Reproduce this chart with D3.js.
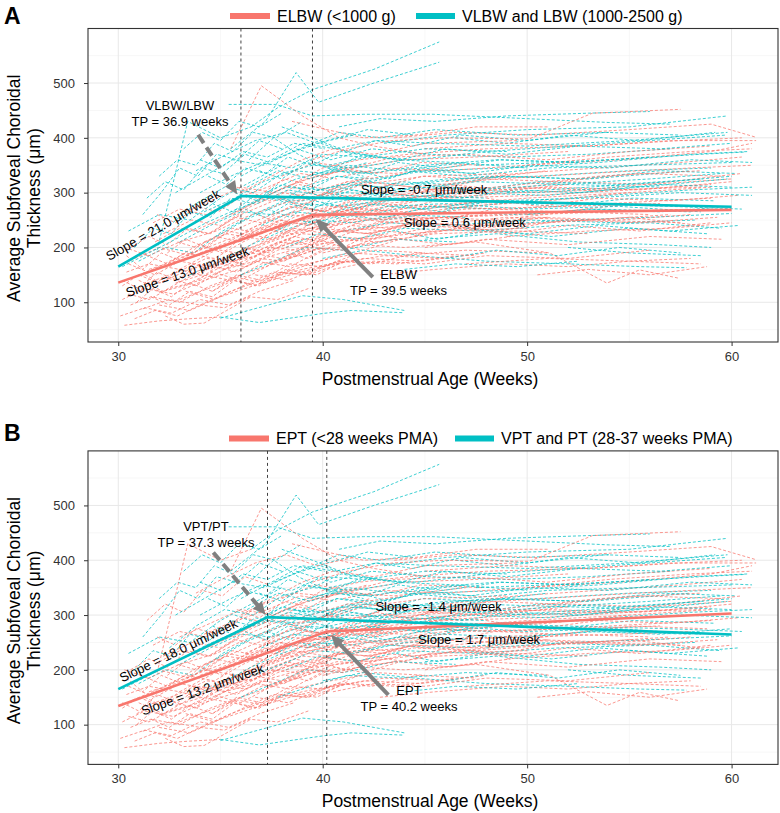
<!DOCTYPE html>
<html><head><meta charset="utf-8">
<script src="https://cdn.jsdelivr.net/npm/d3@7"></script>
<style>
body{margin:0;background:#fff;}
svg{display:block;font-family:"Liberation Sans",Arial,Helvetica,sans-serif;}
</style>
</head><body>
<svg id="chart" width="780" height="813"></svg>
<script>
// ---------- axes ----------
const xTicks=[30,40,50,60];
const xMinor=[35,45,55];
const yTicks=[100,200,300,400,500];
const yMinor=[50,150,250,350,450,550];
const xDomain=[28.52,62.27];
const yDomain=[27.5,599.5];
const xTitle="Postmenstrual Age (Weeks)";
const yTitle=["Average Subfoveal Choroidal","Thickness (μm)"];

// ---------- groups ----------
const groupColors={E:"#F8766D",V:"#00BFC4"};
const legendLabelsA=["ELBW (<1000 g)","VLBW and LBW (1000-2500 g)"];
const legendLabelsB=["EPT (<28 weeks PMA)","VPT and PT (28-37 weeks PMA)"];

// ---------- fitted piecewise lines [week, value] ----------
const fitA_red=[[30,135.8],[39.5,259.5],[60,268.6]];
const fitA_cyan=[[30,165],[36.0,293.8],[60,274.4]];
const fitB_red=[[30,134.2],[40.2,269.9],[60,302.7]];
const fitB_cyan=[[30,164.7],[37.3,296.2],[60,264.4]];
const turnPointsA=[36.0,39.5];
const turnPointsB=[37.3,40.2];

// ---------- annotations (data units) ----------
const slopeLabelsA=[
 {text:"Slope = 21.0 μm/week",w:32.19,v:241.2,along:"V"},
 {text:"Slope = 13.0 μm/week",w:33.38,v:155.9,along:"E"},
 {text:"Slope = -0.7 μm/week",w:44.96,v:305.1},
 {text:"Slope = 0.6 μm/week",w:46.95,v:245.4}];
const slopeLabelsB=[
 {text:"Slope = 18.0 μm/week",w:32.94,v:235.5,along:"V"},
 {text:"Slope = 13.2 μm/week",w:34.12,v:164.3,along:"E"},
 {text:"Slope = -1.4 μm/week",w:45.67,v:315.5},
 {text:"Slope = 1.7 μm/week",w:47.65,v:256}];
const tpLabelsA=[
 {lines:["VLBW/LBW","TP = 36.9 weeks"],w:33.02,v:459.1},
 {lines:["ELBW","TP = 39.5 weeks"],w:43.71,v:149.9}];
const tpLabelsB=[
 {lines:["VPT/PT","TP = 37.3 weeks"],w:34.29,v:461.6},
 {lines:["EPT","TP = 40.2 weeks"],w:44.22,v:162.1}];
const arrowsA=[
 {from:[33.91,405.6],to:[35.82,297.3],dashed:true},
 {from:[42.45,145.7],to:[39.66,252.1],dashed:false}];
const arrowsB=[
 {from:[34.65,414.2],to:[37.21,300.4],dashed:true},
 {from:[43.21,154.2],to:[40.41,263.8],dashed:false}];

// ---------- individual trajectories ----------
// code: [birth-weight group (panel A), gestational-age group (panel B)], then week,value pairs
const subjects=[
["EE",[30.3,58,32,66,33.5,70,35,73]],
["EE",[32.3,75,33.2,60,34.2,62,35.3,85,36.5,110]],
["EE",[30.5,115,31.5,105,32.5,125,34,140,35.5,165,37,190,39,215]],
["EE",[30.2,130,31,150,32,135,33.5,160,35,175,36.5,200,38.5,230,41,245]],
["EE",[30.6,95,31.6,110,33,100,34.5,130,36,150,38,175,40,200]],
["EE",[30.4,155,31.5,170,33,160,34.5,190,36,215,37.5,240,40,260,43,270]],
["EE",[31,140,32.2,120,33.4,145,35,170,36.8,185,38.5,210,41,230,44,240]],
["EE",[30.8,180,32,200,33.5,185,35,220,36.5,245,38.2,270,40,290,43,300,47,310]],
["EE",[31.2,88,32.5,105,34,95,35.5,120,37,140,39,160,41,175]],
["EE",[30.3,200,31.5,185,33,210,34.8,230,36.2,255,38,280,40.5,300]],
["EE",[31.5,160,32.8,175,34.2,200,35.8,190,37.4,225,39,250,41.5,270,44,265,48,285]],
["EE",[32,118,33.2,130,34.6,155,36,140,37.5,170,39.2,195,41,200,43.5,215]],
["EE",[30.9,120,32.3,145,33.8,130,35.2,160,36.7,175,38.4,165,40.2,200]],
["EE",[32.6,175,34,195,35.4,215,36.8,235,38.5,225,40.3,260,42.5,280,45,275,50,290,55,300]],
["EE",[31.8,210,33,235,34.4,225,36,260,37.6,285,39.4,300,41.2,320,44,335]],
["EE",[30.5,170,31.8,150,33,175,34.5,165,36.2,195,38,220,40,235,42,250,46,255,51,265]],
["EE",[33,105,34.4,125,35.8,145,37.2,135,38.6,165,40.4,180,42.6,195,45,190]],
["EE",[31.4,135,32.9,155,34.3,180,35.7,175,37.1,205,38.9,230,41,250,43.6,255,47,270,52,275,56.5,280]],
["EE",[32.2,225,33.6,250,35,240,36.5,275,38,300,39.8,290,42,315,45,330,49,335]],
["EE",[30.7,145,32,165,33.3,190,34.7,180,36.1,210,37.8,240,39.6,255,42,265]],
["EE",[33.4,150,34.8,170,36.3,165,37.8,195,39.5,215,41.5,235,44.5,225,48,240,53,250,57.5,245]],
["EE",[31.1,190,32.4,170,33.9,205,35.3,225,36.9,215,38.4,245,40.1,270,43,285,46.5,300]],
["EE",[32.8,135,34.1,150,35.5,140,37,170,38.8,185,40.6,210,43.2,225]],
["EE",[30.2,105,31.3,125,32.7,115,34.2,140,35.9,160,37.5,185,39.5,205,42,215,45.5,230,50,235]],
["EE",[34,190,35.4,210,36.8,240,38.2,260,39.9,255,41.8,285,44.5,300,48.5,310,53.5,330,58.5,340]],
["EE",[33.7,230,35.2,255,36.6,280,38.1,310,39.7,330,41.6,345,44,360,47.5,365,52,375]],
["EE",[35,200,36.4,225,37.9,250,39.3,240,41,265,43,280,46,290,50.5,295,55,305,59,315]],
["EE",[32,95,33.5,85,35,110,36.6,130,38.4,150,40.5,170,43,185,46,180]],
["EE",[34.5,155,36,180,37.5,205,39,225,40.8,220,42.8,245,46,255,50,260,54.5,265,58,270]],
["EE",[35.6,260,37,290,38.5,315,40,345,41.8,360,44.2,370,48,380,53,385,57.5,395,60.5,400]],
["EE",[36,300,37.5,330,39,360,40.5,380,42.5,370,45,390,49.5,395]],
["EE",[35.5,380,37,495,39,440,40.8,400,42.5,385,45,370]],
["EE",[36.2,230,37.7,255,39.2,270,40.9,265,43,285,46.5,300,51,310,55.5,305,60,320]],
["EE",[37,210,38.6,235,40.2,225,42.2,250,45,240,49,255,53,250,57,260]],
["EE",[38,330,39.6,355,41.4,345,43.5,365,47,370,51,360,55,375,59,385]],
["EE",[37.4,170,39,195,40.7,215,42.7,210,45.5,225,49.5,230,53,225]],
["EE",[38.5,280,40.2,300,42,320,44.5,310,48.5,325,53,335,58,345,61,350]],
["EE",[39,250,40.6,240,42.4,265,45,275,49,270,54,280,59,290]],
["EE",[40,190,41.8,205,44,200,47.5,210,51.1,190,53.9,135,55.5,159,57.4,144]],
["EE",[39.5,360,41.2,380,43.4,395,46,400,50.1,398,53.2,445,57.5,452]],
["EE",[41,330,43,345,46,340,50,350,54.5,360,59,375,61,390]],
["EE",[42,225,44.5,240,47.5,235,51,245,55,255,58.5,240]],
["EE",[40.5,160,42.5,175,45,170,48,185,52,180,56,195]],
["EE",[43,300,45.5,290,49,310,53,305,57,320,60.5,335]],
["EE",[44,260,47,275,51,285,55,300,59,310]],
["EE",[45,200,48,215,52,205,56,220,59.5,215]],
["EE",[46,320,49.5,335,53.5,345,57.5,355,60.5,365]],
["EE",[47,170,51,180,55,175,58.5,170]],
["EV",[36.5,190,38,210,39.6,235,41.5,230,44,250,48,260]],
["EE",[33,260,34.5,285,36,310,37.6,300,39.2,325,41,340,43.5,335,47,350]],
["VV",[35,73,36.9,63,40.1,80,41.4,85,43.9,81]],
["VV",[35,71,39,112,41,105,44,85]],
["VE",[31.9,195,33.4,430,35,400,36.5,420]],
["VV",[36.5,420,37.8,455,39.5,488,42.5,525,45.7,575]],
["VV",[35.5,380,37.2,430,38.7,519,39.8,465,42.5,500,45.7,538]],
["VV",[35.4,461,37.7,461,39.5,440,42,443,45.4,443,50,435,54,428,57,425]],
["VV",[32.5,240,33.8,280,35.2,310,36.6,300,38,335,39.5,350,41.5,345,44,360]],
["VV",[30.2,165,31.5,190,32.8,215,34.3,245,35.8,270,37.3,290,39,285,41,300,44,295,48,290]],
["VV",[33,210,34.5,240,36,265,37.5,260,39.1,280,41,275,43.5,290,47,285,52,280,57,275,60.5,270]],
["VV",[34,300,35.5,330,37,355,38.5,345,40,370,42,365,45,380,49,375]],
["VV",[35.2,255,36.7,285,38.2,310,39.8,305,41.7,320,44.3,315,48,330,53,325,58,340]],
["VV",[36,330,37.5,360,39,390,40.6,380,42.6,395,45.5,390,50,385,55,395,59.8,410]],
["VV",[36.8,280,38.3,305,39.9,295,41.6,315,44,305,47.5,320,52,315,56.5,310]],
["VV",[37,240,38.5,265,40.1,260,42,280,44.8,270,48.5,285,53,290,57.5,300,61,295]],
["VV",[37.6,360,39.2,385,40.8,410,42.8,400,45.5,415,49.5,405,54,410]],
["VV",[38.2,200,39.8,225,41.6,215,44,235,47.5,230,51.5,240,56,245,59.5,235]],
["VV",[38,420,39.5,400,41.2,375,43.5,360,46.5,355,50,345]],
["VV",[39,310,40.7,330,42.6,325,45,340,49,345,53.5,355,58,370,60.8,375]],
["VV",[39.5,270,41.2,255,43.2,275,46,280,50,270,54.5,275,58.5,265]],
["VV",[40.3,350,42.2,365,44.6,360,48,375,52,385,56,395,59.7,405]],
["VV",[40,180,42,195,44.5,185,48,175,52,170,55.5,165,57.8,163]],
["VV",[41,230,43.2,245,46,240,50,250,54.5,245,58.2,250]],
["VV",[42,295,44.5,310,47.5,305,51.5,315,56,325,59.5,335]],
["VV",[43,390,46,405,50,415,55,420,59.8,440]],
["VV",[44,340,47,330,51,345,55.5,350,60,355]],
["VV",[45,215,48.5,225,52.5,210,56.5,205,59,200]],
["VV",[46,270,50,285,54,295,58,305,61,310]],
["VV",[33.5,150,35,175,36.5,205,38,230,39.6,250,41.4,245,43.8,260,47,255]],
["VV",[34.8,220,36.2,250,37.7,275,39.3,300,41,315,43,310,46,325,50.5,330,55,340,59,345]],
["VV",[31,175,32.3,200,33.7,190,35.1,230,36.6,260,38.1,285,39.7,275,41.6,290]],
["VV",[36.3,310,37.8,340,39.4,325,41.2,350,43.6,340,47,355]],
["VE",[33.8,340,35.3,370,36.7,395,38.2,410,39.7,390,41.5,405]],
["VV",[38.7,380,40.4,360,42.4,380,45.2,370,49,365,53,370,57,380]],
["VV",[37.2,300,38.7,325,40.3,340,42.3,335,45,350,48.5,360,52.5,355]],
["VV",[41.5,270,43.8,290,47,300,51,295,55.5,310,59.8,325]],
["VV",[39.2,240,41,260,43,250,45.8,265,49.5,260,53.5,270,58,265]],
["VV",[47.5,350,51,355,55,362,58.5,370,60.6,374]],
["VV",[36.4,360,37.6,400,38.8,370,40.2,345,42,330]],
["VE",[34.2,265,35.7,290,37.1,320,38.6,340,40.2,335,42.2,355]],
["EV",[37.8,150,39.4,170,41.2,190,43.8,185,47,195,51,190]],
["VV",[49,300,53,310,57,320,60,330]],
["VV",[48,240,52,250,56,255,60,262]],
["EE",[50,350,54,365,58,375,61,380]],
["EE",[49,220,53,230,57,235,60,245]],
["VV",[30.5,230,32,260,33.5,250,35,290,36.5,320,38,350]],
["VV",[32.8,300,34.2,330,35.6,360,37.1,350,38.6,375,40.2,395,42.2,415,44.5,405]],
["EE",[34.2,210,35.6,235,37,225,38.6,255,40.3,275,42.4,270,45.5,290,49.5,300,54,305,58.5,310]],
["EE",[31.7,245,33,270,34.3,260,35.8,290,37.3,310,38.9,335,40.7,325]],
["EE",[36.7,150,38.3,140,40,165,42,180,44.8,175,48,190]],
["EE",[30.1,75,31.3,90,32.6,80,34,105,35.4,95,36.9,120,38.6,140]],
["EE",[33.3,120,34.7,105,36.1,130,37.6,155,39.3,150,41.2,175,43.6,170,46.5,185]],
["VV",[40.8,420,42.8,435,45.5,430,49,440,53,445,56,448]],
["EE",[43.5,400,46.5,410,50.5,405,55,415,59,425,61.2,401]],
["EE",[45,380,49,390,53,385,57,395,61.2,395]],
["EE",[38.5,430,40.2,415,42,400,44.5,405,47.5,420,51,420]],
["VV",[52,200,55,190,58.5,185]],
["EE",[42.8,150,45.5,160,49,170,52,165,55,175,58,180]],
["VV",[36,150,37.6,175,39.2,200,41,195,43.5,215,46.5,210]],
["EE",[30.4,185,31.2,160,32.1,190,33.1,175,34,205,35.1,190,36.3,225,37.6,215,39,245,40.6,235]],
["EE",[30.9,100,31.7,125,32.6,110,33.5,135,34.6,120,35.8,150,37,140,38.4,170,40,165,41.8,190]],
["EE",[31.3,150,32.1,135,33,160,34,150,35,180,36.1,170,37.4,200,38.8,195,40.5,220,42.5,215,45,235]],
["EE",[30.2,140,31,125,31.9,155,32.9,140,34,170,35.2,160,36.5,190,38,180,39.6,210]],
["EE",[32.4,190,33.3,215,34.3,200,35.4,230,36.6,220,37.9,250,39.3,240,40.9,270,42.8,260,45.5,285,49,280]],
["EE",[31.6,110,32.5,95,33.5,120,34.6,110,35.7,140,36.9,130,38.2,160,39.7,150,41.3,180]],
["EE",[30.6,200,31.5,220,32.4,205,33.4,235,34.5,225,35.7,255,37,245,38.4,275,40,265,41.8,290,44,285]],
["EE",[33.6,170,34.5,160,35.5,190,36.6,180,37.8,210,39.1,205,40.6,230,42.3,225,44.5,245,47.5,240,51,255]],
["EE",[30.8,70,31.8,85,32.9,75,34,95,35.2,90,36.4,110,37.8,105,39.3,125]],
["EE",[34.6,120,35.6,140,36.7,130,37.9,155,39.2,150,40.7,175,42.4,170,44.6,190,47.5,185]],
["EE",[31.9,260,32.8,245,33.8,275,34.9,265,36.1,295,37.4,285,38.8,315,40.4,305,42.3,330]],
["EE",[35.3,175,36.3,200,37.4,190,38.6,220,39.9,210,41.4,240,43.2,235,45.5,255,48.5,250,52,265,56,260]],
["EE",[36.8,260,37.8,245,38.9,275,40.1,265,41.5,290,43.1,285,45.3,305,48.2,300,52,315]],
["EE",[37.9,290,39,275,40.2,300,41.6,290,43.3,315,45.4,305,48,325,51.5,320,55.5,335,59.5,330]],
["EE",[35.8,310,36.9,295,38.1,325,39.4,315,40.9,345,42.6,335,44.8,355,47.8,350]],
["EE",[39.8,215,41,200,42.4,225,44,215,46,240,48.6,230,51.8,250,55.5,245,59.3,255]],
["EE",[41.2,290,42.6,305,44.2,295,46.2,315,48.8,305,52,320,56,315,60,325]],
["EE",[44.5,220,46.5,235,49,225,52,240,55.5,230,59,245]],
["EE",[48,290,50.5,275,53.5,290,57,285,60.3,295]],
["EE",[38.2,190,39.3,180,40.6,205,42,195,43.8,215,46.2,205,49.2,220]],
["EE",[40.8,250,42.2,240,43.8,260,45.8,250,48.4,270,51.6,265,55.2,280,58.8,275]],
["EE",[33.9,140,34.8,165,35.8,155,36.9,180,38.1,175,39.5,200,41,195,42.8,220]],
["EE",[32.9,210,33.8,200,34.8,220,35.9,210,37.1,240,38.4,230,39.8,260,41.5,250,43.6,275]],
["EE",[36.1,200,37.1,190,38.2,215,39.4,205,40.8,230,42.4,225,44.4,245,47,240,50.5,255,54.5,250,58,260]],
["VV",[36.9,340,38,325,39.2,355,40.5,345,42,370,43.8,360,46,380,49,370,52.5,385,56.5,380,60,390]],
["VV",[38.4,300,39.5,285,40.7,310,42.1,300,43.8,320,46,315,48.8,330,52.5,325,56.5,340,60.2,335]],
["VV",[37.3,270,38.4,255,39.6,285,40.9,275,42.5,295,44.5,285,47,305,50.5,300,54.5,310]],
["VV",[35.7,300,36.8,285,38,315,39.3,305,40.7,330,42.4,320,44.6,340,47.5,335]],
["VV",[39.9,390,41.1,375,42.6,395,44.4,385,46.8,405,50,395,53.8,410,57.5,405]],
["VV",[34.6,280,35.6,265,36.7,295,37.9,285,39.2,310,40.7,300,42.5,325]],
["VV",[41.8,340,43.2,325,44.9,345,47.2,335,50.2,350,54,345,58,360,61,355]],
["VV",[42.5,260,44,275,45.8,265,48.2,285,51.4,275,55.2,290,59.2,285]],
["VV",[37.7,230,38.8,250,40,240,41.4,265,43.1,255,45.3,275,48.2,270]],
["VV",[44.8,300,46.8,290,49.4,305,52.6,300,56.4,315,60,310]],
["VV",[46.5,400,49,390,52,405,55.5,395,59.2,410]],
["VV",[39.4,330,40.6,345,42,335,43.7,355,45.9,345,48.7,360,52.2,355,56,365]],
["VV",[36.2,270,37.2,255,38.3,280,39.5,270,40.9,295,42.5,285]],
["VV",[43.6,230,45.6,215,48.1,230,51.2,220,55,235,58.8,225]],
["VV",[40.2,290,41.5,305,43,295,44.9,315,47.4,305,50.6,320,54.5,315,58.6,325]],
["VV",[34,360,35,345,36.1,375,37.3,365,38.6,390,40.1,380]],
["VV",[50,260,53,270,56.5,265,60,275]],
["EV",[38.6,310,39.8,295,41.2,320,42.8,310,44.9,330,47.6,325,51,340]],
["VV",[31.2,260,32.1,300,33,345,33.9,330,34.8,370,35.8,360,36.9,395,38,380]],
["VV",[32,330,32.9,360,33.8,350,34.7,390,35.6,375,36.6,410,37.7,400,39,430]],
["VV",[30.8,200,31.7,235,32.6,225,33.5,265,34.5,255,35.5,290,36.6,280,37.8,315]],
["VV",[33.2,380,34.1,410,35,395,35.9,430,36.9,420,38,445]],
["VE",[31.4,290,32.3,320,33.2,305,34.1,345,35.1,335,36.2,370,37.4,355]],
["VV",[34.4,330,35.3,315,36.2,345,37.2,335,38.3,365,39.5,350,40.9,375,42.5,365]],
["VV",[46,180,48.5,195,51.5,185,54.5,200,57.5,190]],
["VV",[47,235,50,225,53.5,240,57,230,60.3,240]],
["EE",[50.5,150,53,160,56,150,58.8,165]],
["VV",[44,160,46.5,170,49.5,165,52.5,175]]
];

// ---------- layout ----------
const plotLeft=88, plotRight=778;
const panels=[
 {letter:"A",letterY:24,top:28.5,bottom:342,code:0,legend:legendLabelsA,legendY:16,
  swatches:[[230,270],[416,455]],fits:{E:fitA_red,V:fitA_cyan},tps:turnPointsA,
  slopes:slopeLabelsA,tpLabels:tpLabelsA,arrows:arrowsA},
 {letter:"B",letterY:441,top:450.9,bottom:764.4,code:1,legend:legendLabelsB,legendY:438.5,
  swatches:[[229,269],[455,494]],fits:{E:fitB_red,V:fitB_cyan},tps:turnPointsB,
  slopes:slopeLabelsB,tpLabels:tpLabelsB,arrows:arrowsB}
];

const svg=d3.select("#chart");
svg.append("rect").attr("width",780).attr("height",813).attr("fill","#fff");

const n=subjects.length;
const drawOrder=d3.range(n).sort((a,b)=>((a*53)%n)-((b*53)%n));

panels.forEach(p=>{
  const x=d3.scaleLinear().domain(xDomain).range([plotLeft,plotRight]);
  const y=d3.scaleLinear().domain(yDomain).range([p.bottom,p.top]);
  const g=svg.append("g");

  g.append("text").attr("x",4).attr("y",p.letterY).attr("font-size",23).attr("font-weight","bold")
    .attr("fill","#000").text(p.letter);

  const codes=["E","V"];
  p.legend.forEach((lab,i)=>{
    const s=p.swatches[i];
    g.append("rect").attr("x",s[0]).attr("y",p.legendY-3).attr("width",s[1]-s[0]).attr("height",6)
      .attr("fill",groupColors[codes[i]]);
    g.append("text").attr("x",s[1]+7).attr("y",p.legendY).attr("dy","0.36em")
      .attr("font-size",16).attr("fill","#000").text(lab);
  });

  const grid=g.append("g");
  grid.selectAll(".ym").data(yMinor).join("line").attr("x1",plotLeft).attr("x2",plotRight)
    .attr("y1",d=>y(d)).attr("y2",d=>y(d)).attr("stroke","#f2f2f2").attr("stroke-width",0.6);
  grid.selectAll(".xm").data(xMinor).join("line").attr("y1",p.top).attr("y2",p.bottom)
    .attr("x1",d=>x(d)).attr("x2",d=>x(d)).attr("stroke","#f2f2f2").attr("stroke-width",0.6);
  grid.selectAll(".yM").data(yTicks).join("line").attr("x1",plotLeft).attr("x2",plotRight)
    .attr("y1",d=>y(d)).attr("y2",d=>y(d)).attr("stroke","#e8e8e8").attr("stroke-width",1);
  grid.selectAll(".xM").data(xTicks).join("line").attr("y1",p.top).attr("y2",p.bottom)
    .attr("x1",d=>x(d)).attr("x2",d=>x(d)).attr("stroke","#e8e8e8").attr("stroke-width",1);

  const line=d3.line().x(d=>x(d[0])).y(d=>y(d[1]));
  const traj=g.append("g");
  drawOrder.forEach(i=>{
    const s=subjects[i];
    const pts=[];
    for(let k=0;k<s[1].length;k+=2) pts.push([s[1][k],s[1][k+1]]);
    const grp=s[0][p.code];
    traj.append("path").attr("d",line(pts)).attr("fill","none")
      .attr("stroke",groupColors[grp]).attr("stroke-width",0.95)
      .attr("stroke-dasharray","3,2").attr("opacity",0.8);
  });

  g.selectAll(".tp").data(p.tps).join("line").attr("x1",d=>x(d)).attr("x2",d=>x(d))
    .attr("y1",p.top).attr("y2",p.bottom).attr("stroke","#111").attr("stroke-width",0.8)
    .attr("stroke-dasharray","3,3");

  ["E","V"].forEach(k=>{
    g.append("path").attr("d",line(p.fits[k])).attr("fill","none")
      .attr("stroke",groupColors[k]).attr("stroke-width",2.6);
  });

  p.arrows.forEach(a=>{
    const x1=x(a.from[0]),y1=y(a.from[1]),x2=x(a.to[0]),y2=y(a.to[1]);
    const dx=x2-x1,dy=y2-y1,len=Math.hypot(dx,dy),ux=dx/len,uy=dy/len;
    const L=13,H=6;
    const bx=x2-ux*L,by=y2-uy*L;
    g.append("line").attr("x1",x1).attr("y1",y1).attr("x2",bx+ux*1).attr("y2",by+uy*1)
      .attr("stroke","#808080").attr("stroke-width",4)
      .attr("stroke-dasharray",a.dashed?"10,5":null);
    g.append("polygon").attr("points",[[x2,y2],[bx-uy*H,by+ux*H],[bx+uy*H,by-ux*H]].map(q=>q.join(",")).join(" "))
      .attr("fill","#808080");
  });

  p.tpLabels.forEach(t=>{
    t.lines.forEach((ln,i)=>{
      g.append("text").attr("x",x(t.w)).attr("y",y(t.v)+i*16).attr("dy","0.35em")
        .attr("text-anchor","middle").attr("font-size",13).attr("fill","#000").text(ln);
    });
  });

  p.slopes.forEach(s=>{
    let ang=0;
    if(s.along){
      const f=p.fits[s.along];
      ang=Math.atan2(y(f[1][1])-y(f[0][1]),x(f[1][0])-x(f[0][0]))*180/Math.PI;
    }
    g.append("text").attr("transform",`translate(${x(s.w)},${y(s.v)}) rotate(${ang})`)
      .attr("dy","0.35em").attr("text-anchor","middle").attr("font-size",13).attr("fill","#000").text(s.text);
  });

  g.append("rect").attr("x",plotLeft).attr("y",p.top).attr("width",plotRight-plotLeft)
    .attr("height",p.bottom-p.top).attr("fill","none").attr("stroke","#333").attr("stroke-width",1.1);

  const ax=g.append("g").attr("transform",`translate(0,${p.bottom})`)
    .call(d3.axisBottom(x).tickValues(xTicks).tickSize(4).tickPadding(5.5).tickFormat(d3.format("d")));
  const ay=g.append("g").attr("transform",`translate(${plotLeft},0)`)
    .call(d3.axisLeft(y).tickValues(yTicks).tickSize(4).tickPadding(9).tickFormat(d3.format("d")));
  [ax,ay].forEach(a=>{
    a.select(".domain").remove();
    a.selectAll(".tick line").attr("stroke","#333");
    a.selectAll(".tick text").attr("fill","#333").attr("font-size",13)
      .attr("font-family","'Liberation Sans',Arial,sans-serif");
  });

  g.append("text").attr("x",(plotLeft+plotRight)/2-3).attr("y",p.bottom+43).attr("text-anchor","middle")
    .attr("font-size",17.5).attr("fill","#000").text(xTitle);
  const yc=(p.top+p.bottom)/2+3;
  yTitle.forEach((t,i)=>{
    g.append("text").attr("transform",`translate(${20+i*20},${yc}) rotate(-90)`).attr("text-anchor","middle")
      .attr("font-size",17.5).attr("fill","#000").text(t);
  });
});
</script>
</body></html>
